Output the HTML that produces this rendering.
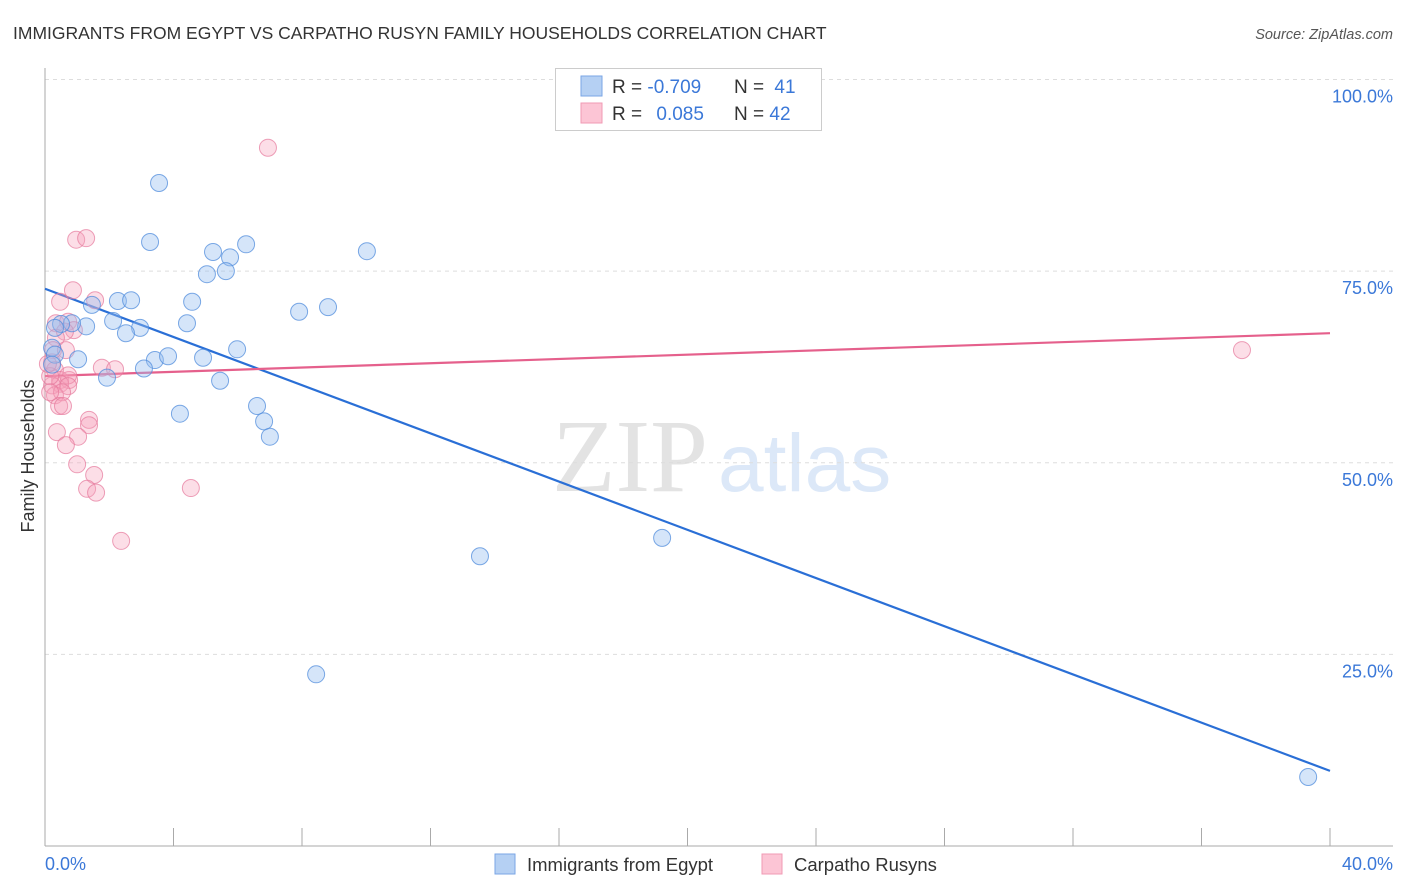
<!DOCTYPE html>
<html><head><meta charset="utf-8">
<style>
body{margin:0;background:#fff;font-family:"Liberation Sans",sans-serif;}
svg{display:block}
</style></head>
<body>
<svg id="chart" width="1406" height="892" viewBox="0 0 1406 892" xmlns="http://www.w3.org/2000/svg">
<text x="13" y="39" font-size="17.5" fill="#333">IMMIGRANTS FROM EGYPT VS CARPATHO RUSYN FAMILY HOUSEHOLDS CORRELATION CHART</text>
<text x="1393" y="39" font-size="14.5" fill="#555" font-style="italic" text-anchor="end">Source: ZipAtlas.com</text>
<g>
<text x="552" y="491" font-family="Liberation Serif,serif" font-size="104" fill="#e3e3e3">ZIP</text>
<text x="718" y="491" font-size="82" fill="#dce8f8">atlas</text>
</g>
<g id="grid"></g>
<g id="axes"></g>
<g id="trend"></g>
<g id="points"></g>
<g>
<rect x="555.5" y="68.5" width="266" height="62" fill="#fff" stroke="#ccc"/>
<rect x="581" y="76" width="21" height="20" fill="#b5d0f3" stroke="#7aa6e6"/>
<rect x="581" y="103" width="21" height="20" fill="#fcc5d5" stroke="#f09ab4"/>
<text x="612" y="93" font-size="19" fill="#333">R = <tspan fill="#3b78d8">-0.709</tspan></text>
<text x="734" y="93" font-size="19" fill="#333">N = <tspan fill="#3b78d8" dx="5">41</tspan></text>
<text x="612" y="120" font-size="19" fill="#333">R = <tspan fill="#3b78d8" dx="9">0.085</tspan></text>
<text x="734" y="120" font-size="19" fill="#333">N = <tspan fill="#3b78d8">42</tspan></text>
</g>
<g>
<rect x="495" y="854" width="20" height="20" fill="#b5d0f3" stroke="#7aa6e6"/>
<text x="527" y="871" font-size="18.5" fill="#333">Immigrants from Egypt</text>
<rect x="762" y="854" width="20" height="20" fill="#fcc5d5" stroke="#f09ab4"/>
<text x="794" y="871" font-size="18.5" fill="#333">Carpatho Rusyns</text>
</g>
<text transform="translate(34,456) rotate(-90)" font-size="18" fill="#333" text-anchor="middle">Family Households</text>
</svg>
<script>
const blueX=[3.55,3.27,5.23,5.76,6.26,10.02,5.04,5.63,2.27,2.68,4.58,1.46,7.91,8.81,2.12,2.96,4.42,2.52,1.28,0.84,0.50,5.98,1.03,3.42,3.83,4.92,3.08,1.93,5.45,4.20,6.60,6.82,7.00,13.54,19.21,8.44,39.32,0.22,0.31,0.22,0.31];
const blueY=[86.5,78.8,77.5,76.8,78.5,77.6,74.6,75.0,71.1,71.2,71.0,70.6,69.7,70.3,68.5,67.6,68.2,66.9,67.8,68.2,68.1,64.8,63.5,63.4,63.9,63.7,62.3,61.1,60.7,56.4,57.4,55.4,53.4,37.8,40.2,22.4,9.0,65.0,64.1,62.8,67.6];
const pinkX=[6.94,0.97,1.28,0.87,0.47,1.56,0.34,0.72,0.90,0.62,0.34,0.25,0.22,0.65,0.31,0.47,0.75,0.72,0.47,0.22,0.72,0.31,0.53,0.44,0.56,1.77,2.18,1.37,1.37,0.37,1.03,0.65,1.00,1.53,1.31,1.59,4.54,2.37,37.26,0.16,0.09,0.16];
const pinkY=[91.1,79.1,79.3,72.5,71.0,71.2,68.2,68.4,67.3,67.1,66.3,64.7,63.1,64.7,62.1,60.8,60.8,61.4,60.3,60.1,60.0,58.8,59.2,57.4,57.4,62.4,62.2,55.6,54.9,54.0,53.4,52.3,49.8,48.4,46.6,46.1,46.7,39.8,64.7,61.3,62.9,59.2];
const trendX=[0,40];
const blueTrend=[72.7,9.8];
const pinkTrend=[61.3,66.9];
const yTicks=[25,50,75,100];
const yTickLabels=["25.0%","50.0%","75.0%","100.0%"];
const xTickCount=10;

const NS="http://www.w3.org/2000/svg";
const X0=45,X1=1330,Y0=846,Y100=79.5;
const sx=v=>X0+(v/40)*(X1-X0);
const sy=v=>Y0-(v/100)*(Y0-Y100);
function mk(tag,attrs,parent){const e=document.createElementNS(NS,tag);for(const k in attrs)e.setAttribute(k,attrs[k]);document.getElementById(parent).appendChild(e);return e;}

yTicks.forEach((t,i)=>{
  const g=mk('line',{x1:X0,x2:1393,y1:sy(t),y2:sy(t),stroke:'#ddd','stroke-dasharray':'4,4'},'grid');
  
  
  const l=mk('text',{x:1393,y:sy(t)+23,'font-size':18,fill:'#3b78d8','text-anchor':'end'},'grid');
  l.textContent=yTickLabels[i];
  
  
});
const ya=mk('line',{x1:X0,x2:X0,y1:68,y2:Y0,stroke:'#aaa'},'axes');


const xa=mk('line',{x1:X0,x2:1393,y1:Y0,y2:Y0,stroke:'#aaa'},'axes');


for(let i=0;i<=xTickCount;i++){
  const v=40*i/xTickCount;
  const t=mk('line',{x1:sx(v),x2:sx(v),y1:828,y2:Y0,stroke:'#aaa'},'axes');
  
  
}
const xl0=mk('text',{x:X0,y:870,'font-size':18,fill:'#3b78d8'},'axes');xl0.textContent='0.0%';


const xl1=mk('text',{x:1393,y:870,'font-size':18,fill:'#3b78d8','text-anchor':'end'},'axes');xl1.textContent='40.0%';



pinkX.forEach((x,i)=>{
  const c=mk('circle',{cx:sx(x),cy:sy(pinkY[i]),r:8.5,fill:'rgba(245,160,185,0.35)',stroke:'rgba(230,120,155,0.7)','stroke-width':1},'points');
  
  
});
blueX.forEach((x,i)=>{
  const c=mk('circle',{cx:sx(x),cy:sy(blueY[i]),r:8.5,fill:'rgba(150,190,240,0.4)',stroke:'rgba(80,140,220,0.75)','stroke-width':1},'points');
  
  
});
const bl=mk('line',{x1:sx(trendX[0]),y1:sy(blueTrend[0]),x2:sx(trendX[1]),y2:sy(blueTrend[1]),stroke:'#2a6fd6','stroke-width':2.2},'trend');


const pl=mk('line',{x1:sx(trendX[0]),y1:sy(pinkTrend[0]),x2:sx(trendX[1]),y2:sy(pinkTrend[1]),stroke:'#e5608c','stroke-width':2.2},'trend');


</script>
</body></html>
